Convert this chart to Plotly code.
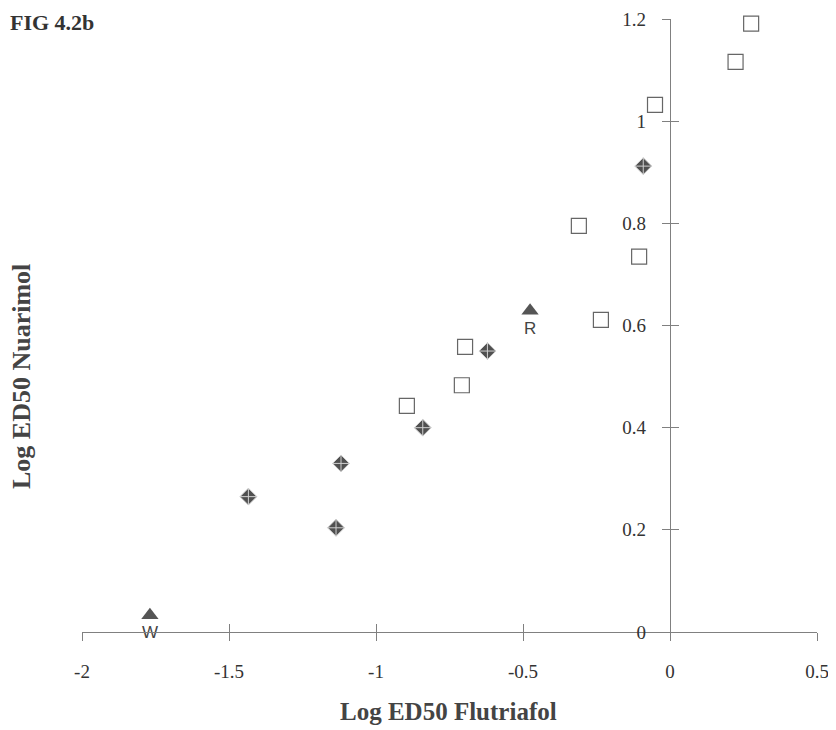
import plotly.graph_objects as go

# Data
sq_x = [0.276, 0.223, -0.051, -0.31, -0.105, -0.235, -0.697, -0.708, -0.895]
sq_y = [1.191, 1.116, 1.032, 0.795, 0.735, 0.611, 0.558, 0.483, 0.4425]

dm_x = [-0.091, -0.621, -0.841, -1.119, -1.434, -1.136]
dm_y = [0.912, 0.550, 0.400, 0.330, 0.265, 0.204]

tri_x = [-1.769, -0.476]
tri_y = [0.033, 0.629]
tri_labels = ["W", "R"]

x_ticks = [-2, -1.5, -1, -0.5, 0, 0.5]
x_ticktext = ["-2", "-1.5", "-1", "-0.5", "0", "0.5"]
y_ticks = [0, 0.2, 0.4, 0.6, 0.8, 1.0, 1.2]
y_ticktext = ["0", "0.2", "0.4", "0.6", "0.8", "1", "1.2"]

x_range = [-2, 0.5]
y_range = [0, 1.2]

SERIF = "Liberation Serif, Times New Roman, serif"
SANS = "Liberation Sans, Arial, sans-serif"
AX = "#808080"

# figure sits 8px inside the page (body margin)
W, H = 828, 722
ML, MR, MT, MB = 74, 19, 11, 98
PW = W - ML - MR
PH = H - MT - MB

def px(xp):
    return (xp - 8 - ML) / PW

def py(yp):
    return (MT + PH - (yp - 8)) / PH

fig = go.Figure()

fig.add_trace(go.Scatter(
    x=sq_x, y=sq_y, mode="markers",
    marker=dict(symbol="square-open", size=15, color="#666666", line=dict(width=1.2)),
    cliponaxis=False, showlegend=False))

fig.add_trace(go.Scatter(
    x=dm_x, y=dm_y, mode="markers",
    marker=dict(symbol="diamond-cross", size=13, color="#505050",
                line=dict(color="#d0d0d0", width=1)),
    cliponaxis=False, showlegend=False))

fig.add_trace(go.Scatter(
    x=tri_x, y=tri_y, mode="markers+text", text=tri_labels,
    textposition="bottom center",
    textfont=dict(family=SANS, size=17, color="#444444"),
    marker=dict(symbol="triangle-up", size=15, color="#555555"),
    cliponaxis=False, showlegend=False))

# invisible trace to hold the overlay axes (for crossing ticks)
fig.add_trace(go.Scatter(x=[None], y=[None], xaxis="x2", yaxis="y2",
                         showlegend=False, hoverinfo="skip"))

x_pos0 = (0 - x_range[0]) / (x_range[1] - x_range[0])

fig.update_layout(
    width=W, height=H,
    margin=dict(l=ML, r=MR, t=MT, b=MB, autoexpand=False),
    paper_bgcolor="white", plot_bgcolor="white",
    font=dict(family=SERIF, color="#333333"),
    xaxis=dict(range=x_range, tickvals=x_ticks, ticktext=x_ticktext,
               showgrid=False, zeroline=False, showline=True, linecolor=AX,
               linewidth=1.2, ticks="outside", ticklen=8, tickcolor=AX,
               tickwidth=1.2, anchor="y", ticklabelstandoff=14, automargin=False,
               ticklabeloverflow="allow",
               tickfont=dict(family=SERIF, size=19, color="#333333")),
    xaxis2=dict(range=x_range, overlaying="x", anchor="y", tickvals=x_ticks,
                showgrid=False, zeroline=False, showline=False, ticks="inside",
                ticklen=8, tickcolor=AX, tickwidth=1.2, showticklabels=False),
    yaxis=dict(range=y_range, tickvals=y_ticks, ticktext=y_ticktext,
               showgrid=False, zeroline=False, showline=True, linecolor=AX,
               linewidth=1.2, ticks="outside", ticklen=8, tickcolor=AX,
               tickwidth=1.2, anchor="free", position=x_pos0,
               ticklabelstandoff=12, automargin=False,
               ticklabeloverflow="allow",
               tickfont=dict(family=SERIF, size=19, color="#333333")),
    yaxis2=dict(range=y_range, overlaying="y", anchor="free", position=x_pos0,
                tickvals=y_ticks, showgrid=False, zeroline=False, showline=False,
                ticks="inside", ticklen=8, tickcolor=AX, tickwidth=1.2,
                showticklabels=False),
    annotations=[
        dict(text="<b>FIG 4.2b</b>", xref="paper", yref="paper",
             x=px(8), y=py(8), xanchor="left", yanchor="top",
             showarrow=False, font=dict(family=SERIF, size=22, color="#333333")),
        dict(text="<b>Log ED50 Flutriafol</b>", xref="paper", yref="paper",
             x=px(448), y=py(711), xanchor="center",
             yanchor="middle", showarrow=False,
             font=dict(family=SERIF, size=25, color="#444444")),
        dict(text="<b>Log ED50 Nuarimol</b>", xref="paper", yref="paper",
             x=px(22), y=py(377), xanchor="center",
             yanchor="middle", textangle=-90, showarrow=False,
             font=dict(family=SERIF, size=26, color="#444444")),
    ],
)

fig.write_html("out.html")
